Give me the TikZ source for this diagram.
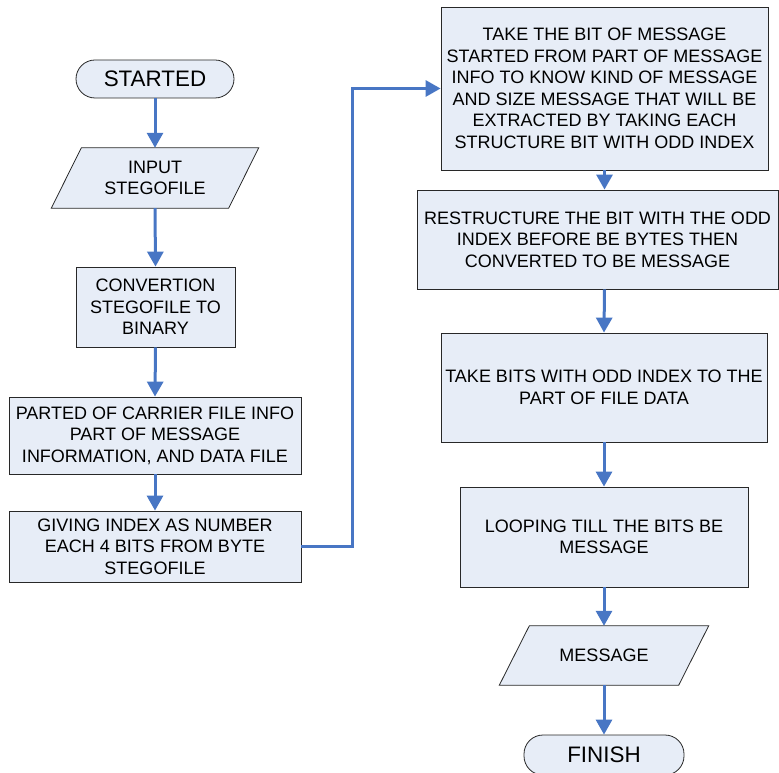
\documentclass[tikz,border=0pt]{standalone}
\usepackage{fontspec}
\setmainfont{Liberation Sans}
\usetikzlibrary{arrows.meta,backgrounds}
\definecolor{flowblue}{RGB}{72,118,196}
\definecolor{boxfill}{RGB}{231,237,247}
\definecolor{boxline}{RGB}{40,40,40}

\begin{document}
\begin{tikzpicture}[x=1pt, y=1pt,
  procbox/.style={draw=boxline, fill=boxfill, line width=0.8pt, align=center,
    inner sep=0pt, font=\fontsize{18}{21.5}\selectfont},
  iotext/.style={align=center, inner sep=0pt, font=\fontsize{18}{21.5}\selectfont},
  ioshape/.style={draw=boxline, fill=boxfill, line width=0.8pt},
  termbox/.style={procbox, rounded corners=19pt, font=\fontsize{22.4}{26}\selectfont},
  flow/.style={draw=flowblue, line width=3pt, -{Triangle[length=15pt,width=16pt]}}]

\useasboundingbox (0,0) rectangle (779,772);

% left column
\node[termbox, minimum width=158, minimum height=38] (start) at (155,693) {STARTED};
\node[iotext, minimum width=177, minimum height=60] (input) at (155,594) {INPUT\\STEGOFILE};
\node[procbox, minimum width=159, minimum height=80] (conv) at (155.5,465)
  {CONVERTION\\STEGOFILE TO\\BINARY};
\node[procbox, minimum width=292, minimum height=77] (parted) at (155,336.5)
  {PARTED OF CARRIER FILE INFO\\PART OF MESSAGE\\INFORMATION, AND DATA FILE};
\node[procbox, minimum width=292, minimum height=71] (giving) at (155,225.5)
  {GIVING INDEX AS NUMBER\\EACH 4 BITS FROM BYTE\\STEGOFILE};

% right column
\node[procbox, minimum width=327, minimum height=163] (take) at (604.5,683.5)
  {TAKE THE BIT OF MESSAGE\\STARTED FROM PART OF MESSAGE\\INFO TO KNOW KIND OF MESSAGE\\AND SIZE MESSAGE THAT WILL BE\\EXTRACTED BY TAKING EACH\\STRUCTURE BIT WITH ODD INDEX};
\node[procbox, minimum width=361, minimum height=99] (restr) at (597.5,532.5)
  {RESTRUCTURE THE BIT WITH THE ODD\\INDEX BEFORE BE BYTES THEN\\CONVERTED TO BE MESSAGE};
\node[procbox, minimum width=326, minimum height=109] (bits) at (604,384.5)
  {TAKE BITS WITH ODD INDEX TO THE\\PART OF FILE DATA};
\node[procbox, minimum width=288, minimum height=100] (loop) at (604,235)
  {LOOPING TILL THE BITS BE\\MESSAGE};
\node[iotext, minimum width=179, minimum height=59] (msg) at (604,116.5) {MESSAGE};
\node[termbox, minimum width=160, minimum height=40] (finish) at (604,17) {FINISH};

% parallelograms behind the input/output texts
\begin{scope}[on background layer]
\foreach \io in {input,msg}
  \draw[ioshape] ([xshift=-15pt]\io.south west) -- ([xshift=-15pt]\io.south east)
    -- ([xshift=15pt]\io.north east) -- ([xshift=15pt]\io.north west) -- cycle;
\end{scope}

% connectors
\draw[flow] (start.south) -- (input.north);
\draw[flow] (input.south) -- (conv.north);
\draw[flow] (conv.south) -- (parted.north);
\draw[flow] (parted.south) -- (giving.north);
\draw[flow] (giving.east) -- ++(51,0) |- (take.west);
\draw[flow] (take.south) -- (take.south |- restr.north);
\draw[flow] (take.south |- restr.south) -- (bits.north);
\draw[flow] (bits.south) -- (loop.north);
\draw[flow] (loop.south) -- (msg.north);
\draw[flow] (msg.south) -- (finish.north);
\end{tikzpicture}
\end{document}
